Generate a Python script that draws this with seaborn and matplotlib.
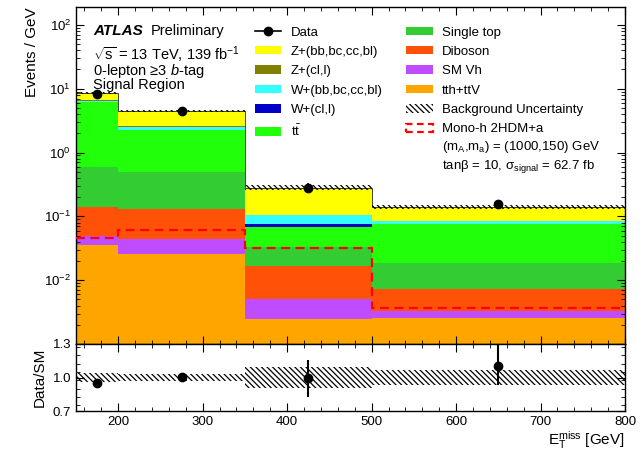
import numpy as np
import pandas as pd
import matplotlib
matplotlib.use("Agg")
import matplotlib.pyplot as plt
from matplotlib.patches import Patch
from matplotlib.lines import Line2D
from matplotlib.ticker import MultipleLocator, LogLocator, NullFormatter, FixedLocator, FormatStrFormatter
import seaborn as sns

# ---------------------------------------------------------------- data
bin_edges = [150, 200, 350, 500, 800]  # E_T^miss [GeV]

# background yields in events / GeV, listed top of stack first
z_hf = [2.10, 1.898, 0.1772, 0.0553]
z_lf = [0.02, 0.012, 0.0020, 0.0004]
w_hf = [0.36, 0.305, 0.0290, 0.0076]
w_lf = [0.02, 0.012, 0.0059, 0.0010]
ttbar = [5.55, 1.74, 0.0352, 0.0570]
single_top = [0.458, 0.361, 0.0168, 0.0114]
diboson = [0.093, 0.0874, 0.0118, 0.0040]
sm_vh = [0.0137, 0.0185, 0.0026, 0.0007]
tth_ttv = [0.0353, 0.0261, 0.00245, 0.0026]

# relative background uncertainty per bin
bkg_unc = [0.04, 0.035, 0.09, 0.07]

# observed data (events / GeV) and relative stat. uncertainties
data = [8.2, 4.47, 0.281, 0.154]
data_rel_dn = [0.032, 0.018, 0.166, 0.15]
data_rel_up = [0.032, 0.018, 0.166, 0.19]

# signal: Mono-h 2HDM+a
signal = [0.046, 0.0608, 0.0321, 0.00365]

process_labels = ["Z+(bb,bc,cc,bl)", "Z+(cl,l)", "W+(bb,bc,cc,bl)", "W+(cl,l)",
                  r"t$\mathregular{\bar{t}}$", "Single top", "Diboson", "SM Vh", "tth+ttV"]
process_yields = [z_hf, z_lf, w_hf, w_lf, ttbar, single_top, diboson, sm_vh, tth_ttv]
process_colors = ["#ffff00", "#7f7f00", "#33ffff", "#0000c8", "#22ff0a",
                  "#33cc33", "#ff5208", "#c04cff", "#ffa500"]

# ---------------------------------------------------------------- style
plt.rcParams["font.family"] = ["Liberation Sans", "DejaVu Sans"]
plt.rcParams["mathtext.fontset"] = "custom"
plt.rcParams["mathtext.rm"] = "Liberation Sans"
plt.rcParams["mathtext.it"] = "Liberation Sans:italic"
plt.rcParams["mathtext.bf"] = "Liberation Sans:bold"
plt.rcParams["hatch.linewidth"] = 0.9
plt.rcParams["axes.linewidth"] = 1.0

HATCH = "\\\\\\\\\\\\"

edges = np.array(bin_edges, dtype=float)
centers = 0.5 * (edges[:-1] + edges[1:])
widths = np.diff(edges)

df = pd.DataFrame({
    "met": np.tile(centers, len(process_labels)),
    "yield": np.concatenate([np.asarray(v, float) for v in process_yields]),
    "process": np.repeat(process_labels, len(centers)),
})
palette = dict(zip(process_labels, process_colors))
total = np.sum([np.asarray(v, float) for v in process_yields], axis=0)

fig = plt.figure(figsize=(6.44, 4.54), dpi=100)
ax = fig.add_axes([0.1180, 0.2423, 0.8525, 0.7423])
rax = fig.add_axes([0.1180, 0.0947, 0.8525, 0.1476], sharex=ax)

# ---------------------------------------------------------------- main panel
sns.histplot(data=df, x="met", weights="yield", hue="process", hue_order=process_labels,
             palette=palette, bins=bin_edges, multiple="stack", element="bars",
             stat="count", alpha=1, linewidth=0, edgecolor="none", legend=False, ax=ax)
ax.set_yscale("log")

ax.stairs(total, edges, color="#222222", lw=0.6, baseline=None, zorder=4)
ax.bar(edges[:-1], total * 2 * np.asarray(bkg_unc), bottom=total * (1 - np.asarray(bkg_unc)),
       width=widths, align="edge", fill=False, hatch=HATCH, linewidth=0,
       edgecolor="black", zorder=5)
ax.stairs(signal, edges, color="red", lw=1.6, linestyle=(0, (4, 2.5)), baseline=None, zorder=6)

data_arr = np.asarray(data)
ax.errorbar(centers, data_arr,
            yerr=[data_arr * np.asarray(data_rel_dn), data_arr * np.asarray(data_rel_up)],
            fmt="o", color="black", ms=6, elinewidth=1.2, capsize=0, zorder=7)

ax.set_xlim(150, 800)
ax.set_ylim(1e-3, 10 ** 2.28)
ax.set_xlabel("")
ax.set_ylabel("Events / GeV", fontsize=11, loc="top")
ax.yaxis.set_label_coords(-0.067, 1.0)

ax.yaxis.set_major_locator(FixedLocator([1e-2, 1e-1, 1e0, 1e1, 1e2]))
ax.yaxis.set_minor_locator(LogLocator(base=10, subs=np.arange(2, 10), numticks=12))
ax.yaxis.set_minor_formatter(NullFormatter())
ax.xaxis.set_major_locator(MultipleLocator(100))
ax.xaxis.set_minor_locator(MultipleLocator(20))
ax.tick_params(which="both", direction="in", top=True, right=True, labelbottom=False,
               labelsize=9.5)
ax.tick_params(which="major", length=6)
ax.tick_params(which="minor", length=3)

# labels
ax.text(0.031, 0.929, "ATLAS", transform=ax.transAxes, fontsize=11,
        fontweight="bold", fontstyle="italic", va="center", ha="left")
ax.text(0.136, 0.929, "Preliminary", transform=ax.transAxes, fontsize=10.5,
        va="center", ha="left")
ax.text(0.031, 0.887,
        r"$\sqrt{\mathregular{s}}$ = 13 TeV, 139 fb$^{\mathregular{-1}}$" "\n"
        r"0-lepton ≥3 $\it{b}$-tag" "\n"
        "Signal Region",
        transform=ax.transAxes, fontsize=10.5, va="top", ha="left", linespacing=0.76)

# legend
handles = [Line2D([], [], color="black", marker="o", ms=6, lw=1.2)]
handles += [Patch(facecolor=c, edgecolor="none") for c in process_colors[:5]]
handles += [Patch(facecolor=c, edgecolor="none") for c in process_colors[5:]]
handles += [Patch(facecolor="none", edgecolor="black", hatch=HATCH, linewidth=0),
            Patch(facecolor="none", edgecolor="red", linestyle=(0, (3, 2)), linewidth=1.6)]
labels = ["Data"] + process_labels + ["Background Uncertainty", "Mono-h 2HDM+a"]
ax.legend(handles, labels, ncol=2, loc="upper left", bbox_to_anchor=(0.326, 0.942),
          frameon=False, fontsize=9.5, borderpad=0, borderaxespad=0,
          handlelength=2.0, handleheight=0.6, handletextpad=0.7,
          columnspacing=1.8, labelspacing=0.56)
ax.text(0.667, 0.585, r"(m$_{\mathregular{A}}$,m$_{\mathregular{a}}$) = (1000,150) GeV",
        transform=ax.transAxes, fontsize=9.5, va="center", ha="left")
ax.text(0.667, 0.528, r"tanβ = 10, σ$_{\mathregular{signal}}$ = 62.7 fb",
        transform=ax.transAxes, fontsize=9.5, va="center", ha="left")

# ---------------------------------------------------------------- ratio panel
unc = np.asarray(bkg_unc)
rax.bar(edges[:-1], 2 * unc, bottom=1 - unc, width=widths, align="edge", fill=False,
        hatch=HATCH, linewidth=0, edgecolor="black")
ratio = data_arr / total
rax.errorbar(centers, ratio, yerr=[ratio * np.asarray(data_rel_dn), ratio * np.asarray(data_rel_up)],
             fmt="o", color="black", ms=6, elinewidth=1.5, capsize=0)

rax.set_ylim(0.7, 1.3)
rax.yaxis.set_major_locator(FixedLocator([0.7, 1.0, 1.3]))
rax.yaxis.set_major_formatter(FormatStrFormatter("%.1f"))
rax.yaxis.set_minor_locator(MultipleLocator(0.075))
rax.tick_params(which="both", direction="in", top=True, right=True, labelsize=9.5)
rax.tick_params(which="major", length=6)
rax.tick_params(which="minor", length=3)
rax.set_ylabel("Data/SM", fontsize=11)
rax.yaxis.set_label_coords(-0.053, 0.5)
rax.set_xlabel(r"E$_{\mathregular{T}}^{\mathregular{miss}}$ [GeV]", fontsize=11, loc="right")
rax.xaxis.set_label_coords(1.0, -0.27)

fig.savefig("out.png", dpi=100)
